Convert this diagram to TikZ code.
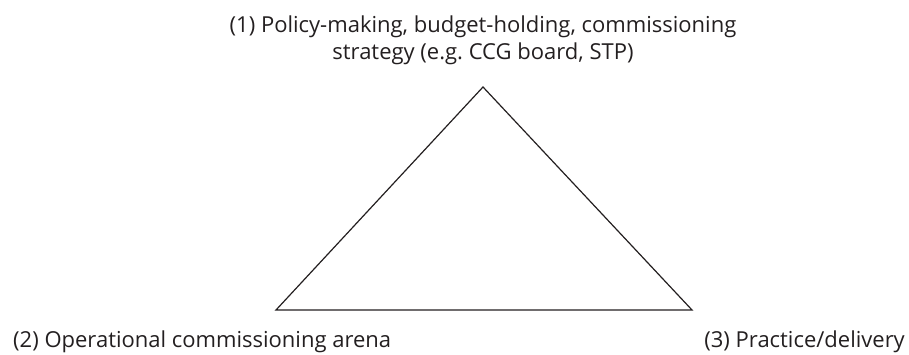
\documentclass[tikz,border=0pt]{standalone}
\usepackage{fontspec}
\setmainfont{Open Sans}
\frenchspacing
\definecolor{ink}{HTML}{231F20}
\begin{document}
\begin{tikzpicture}[x=1pt,y=-1pt,
  lbl/.style={inner sep=0pt, font=\fontsize{22}{27}\selectfont, text=ink},
  tri/.style={draw=ink, line width=1.2pt, line join=miter}]
\useasboundingbox (0,0) rectangle (909,355);
\coordinate (top) at (483,87);
\coordinate (bl) at (276,310);
\coordinate (br) at (692,310);
\draw[tri] (top) -- (bl) -- (br) -- cycle;
\node[lbl, align=center, anchor=base] (t1) at (483,60) {(1) Policy-making, budget-holding, commissioning\\strategy (e.g. CCG board, STP)};
\node[lbl, anchor=base west] (t2) at (13,347) {(2) Operational commissioning arena};
\node[lbl, anchor=base east] (t3) at (905,347) {(3) Practice/delivery};
\end{tikzpicture}
\end{document}
